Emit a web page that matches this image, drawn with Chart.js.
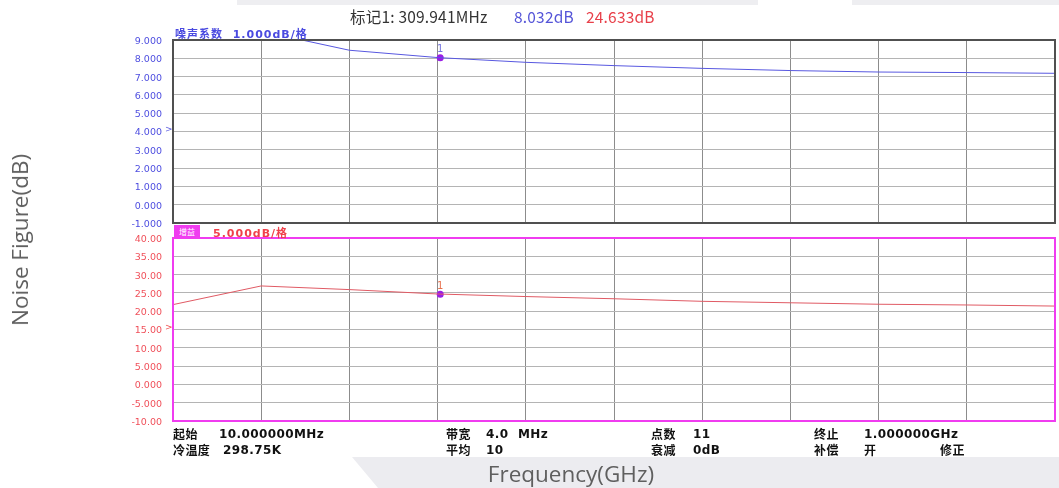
<!DOCTYPE html>
<html>
<head>
<meta charset="utf-8">
<script src="https://cdn.jsdelivr.net/npm/chart.js@4"></script>
<style>
  body { margin: 0; background: #fff; }
  #wrap { position: relative; width: 1059px; height: 488px; overflow: hidden; }
  #wrap canvas { position: absolute; left: 0; top: 0; }
  .t { position: absolute; white-space: nowrap; line-height: 16px; }
  .hdr { font: 15.5px "Noto Sans CJK SC", "DejaVu Sans", sans-serif; letter-spacing: 0.2px; }
  .foot { font: bold 12px "DejaVu Sans", "Noto Sans CJK SC", sans-serif; letter-spacing: 0.4px; color: #111; }
  .cj { transform: translateY(-2px); }
  .lbl { font: bold 11px "DejaVu Sans", "Noto Sans CJK SC", sans-serif; letter-spacing: 1px; }
  .axt { font: 22.5px "Open Sans", sans-serif; color: #5f5f5f; line-height: 26px; }
</style>
</head>
<body>
<div id="wrap">
  <!-- light grey background shapes from the original screenshot -->
  <div style="position:absolute;left:237px;top:0;width:521px;height:5px;background:#eeeef1"></div>
  <div style="position:absolute;left:852px;top:0;width:207px;height:5px;background:#eeeef1"></div>
  <div style="position:absolute;left:0;top:457px;width:1059px;height:31px;background:#ececf0;clip-path:polygon(352px 0,1059px 0,1059px 31px,378px 31px)"></div>

  <canvas id="nfChart" width="1059" height="488"></canvas>
  <canvas id="gainChart" width="1059" height="488"></canvas>

  <!-- marker readout -->
  <div class="t hdr" style="left:350px;top:5px;color:#333">标记1: 309.941MHz</div>
  <div class="t hdr" style="left:514px;top:5px;color:#5454d8">8.032dB</div>
  <div class="t hdr" style="left:586px;top:5px;color:#e8404a">24.633dB</div>

  <!-- panel labels -->
  <div class="t lbl" style="left:175px;top:25px;color:#4a4ae0">噪声系数&nbsp;&nbsp;1.000dB/格</div>
  <div style="position:absolute;left:174px;top:225px;width:26px;height:13px;background:#f03cf0;color:#fff;font:8px 'Noto Sans CJK SC';line-height:13px;text-align:center">增益</div>
  <div class="t lbl" style="left:213px;top:224px;color:#f0404a">5.000dB/格</div>
  <div class="t" style="left:165px;top:124px;font:9px 'DejaVu Sans';color:#6060e0">&gt;</div>
  <div class="t" style="left:165px;top:322px;font:9px 'DejaVu Sans';color:#f05050">&gt;</div>

  <!-- instrument settings -->
  <div class="t foot cj" style="left:173px;top:427px">起始</div>
  <div class="t foot" style="left:219px;top:427px">10.000000MHz</div>
  <div class="t foot cj" style="left:446px;top:427px">带宽</div>
  <div class="t foot" style="left:486px;top:427px">4.0</div>
  <div class="t foot" style="left:518px;top:427px">MHz</div>
  <div class="t foot cj" style="left:651px;top:427px">点数</div>
  <div class="t foot" style="left:693px;top:427px">11</div>
  <div class="t foot cj" style="left:814px;top:427px">终止</div>
  <div class="t foot" style="left:864px;top:427px">1.000000GHz</div>
  <div class="t foot cj" style="left:173px;top:443px">冷温度</div>
  <div class="t foot" style="left:223px;top:443px">298.75K</div>
  <div class="t foot cj" style="left:446px;top:443px">平均</div>
  <div class="t foot" style="left:486px;top:443px">10</div>
  <div class="t foot cj" style="left:651px;top:443px">衰减</div>
  <div class="t foot" style="left:693px;top:443px">0dB</div>
  <div class="t foot cj" style="left:814px;top:443px">补偿</div>
  <div class="t foot cj" style="left:864px;top:443px">开</div>
  <div class="t foot cj" style="left:940px;top:443px">修正</div>

  <!-- axis titles -->
  <div class="t axt" style="left:571px;top:461px;transform:translateX(-50%)">Frequency(GHz)</div>
  <div class="t axt" style="left:20px;top:240px;transform:translate(-50%,-50%) rotate(-90deg)">Noise Figure(dB)</div>
</div>

<script>
// sweep points (MHz), 11 points from 10 MHz to 1 GHz
var freqMHz = [10, 109, 208, 307, 406, 505, 604, 703, 802, 901, 1000];
// noise figure trace (dB) - first point is above the top of the screen
var noiseFigure = [11.5, 9.48, 8.44, 8.04, 7.78, 7.60, 7.45, 7.33, 7.25, 7.22, 7.18];
// gain trace (dB)
var gain = [21.8, 26.9, 25.9, 24.7, 24.0, 23.4, 22.7, 22.3, 21.9, 21.7, 21.4];

var nfTicks = [9, 8, 7, 6, 5, 4, 3, 2, 1, 0, -1];
var gainTicks = [40, 35, 30, 25, 20, 15, 10, 5, 0, -5, -10];

// marker 1
var markerFreq = 309.941;
var markerNF = 8.032;
var markerGain = 24.633;

// outline of the plot area + the "1" tag over the marker
var framePlugin = {
    id: 'frame',
    afterDraw: function (chart, args, opts) {
        var ctx = chart.ctx, a = chart.chartArea;
        ctx.save();
        ctx.strokeStyle = opts.color;
        ctx.lineWidth = 2;
        ctx.strokeRect(a.left, a.top, a.right - a.left, a.bottom - a.top);
        var pt = chart.getDatasetMeta(1).data[0];
        ctx.fillStyle = opts.tagColor;
        ctx.font = '10px "DejaVu Sans"';
        ctx.textAlign = 'center';
        ctx.textBaseline = 'bottom';
        ctx.fillText('1', pt.x, pt.y - 3);
        ctx.restore();
    }
};

function makePanel(id, p) {
    return new Chart(document.getElementById(id), {
        type: 'line',
        data: {
            datasets: [{
                data: freqMHz.map(function (f, i) { return { x: f, y: p.values[i] }; }),
                borderColor: p.lineColor,
                borderWidth: 1,
                pointRadius: 0,
                tension: 0
            }, {
                data: [{ x: markerFreq, y: p.marker }],
                showLine: false,
                pointRadius: 3.5,
                pointBorderWidth: 0,
                pointBackgroundColor: '#9a1ee6'
            }]
        },
        options: {
            responsive: false,
            animation: false,
            layout: { padding: { top: p.top, bottom: 488 - p.bottom, left: 0, right: 2 } },
            plugins: {
                legend: { display: false },
                tooltip: { enabled: false },
                frame: { color: p.frameColor, tagColor: p.tagColor }
            },
            scales: {
                x: {
                    type: 'linear',
                    min: 10,
                    max: 1000,
                    afterBuildTicks: function (s) { s.ticks = freqMHz.map(function (v) { return { value: v }; }); },
                    ticks: { display: false },
                    grid: { color: '#8c8c8c', drawTicks: false },
                    border: { display: false }
                },
                y: {
                    min: p.ticks[p.ticks.length - 1],
                    max: p.ticks[0],
                    afterBuildTicks: function (s) { s.ticks = p.ticks.map(function (v) { return { value: v }; }); },
                    afterFit: function (s) { s.width = 173; },
                    ticks: {
                        color: p.tickColor,
                        font: { family: 'DejaVu Sans', size: 9.5 },
                        padding: 11,
                        labelOffset: 1.5,
                        autoSkip: false,
                        callback: p.fmt
                    },
                    grid: { color: '#b4b4b4', drawTicks: false },
                    border: { display: false }
                }
            }
        },
        plugins: [framePlugin]
    });
}

makePanel('nfChart', {
    values: noiseFigure, marker: markerNF, ticks: nfTicks,
    top: 40, bottom: 223,
    lineColor: '#5858e0', tickColor: '#4e4ee0', frameColor: '#505050', tagColor: '#7272e0',
    fmt: function (v) { return v.toFixed(3); }
});

makePanel('gainChart', {
    values: gain, marker: markerGain, ticks: gainTicks,
    top: 238, bottom: 421,
    lineColor: '#e05a64', tickColor: '#f0505a', frameColor: '#f03cf0', tagColor: '#e8704c',
    fmt: function (v) { return Math.abs(v) >= 10 ? v.toFixed(2) : v.toFixed(3); }
});
</script>
</body>
</html>
